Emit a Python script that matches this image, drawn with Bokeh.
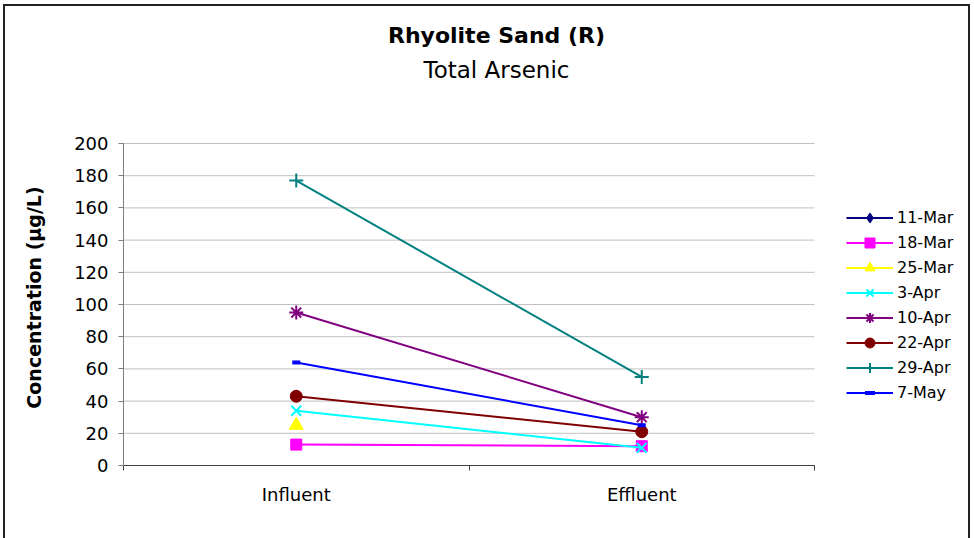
import math
from bokeh.plotting import figure
from bokeh.models import Range1d, FixedTicker, Legend, LegendItem, Label
from bokeh.embed import file_html
from bokeh.resources import INLINE

nan = float("nan")

categories = ["Influent", "Effluent"]
series_names = ["11-Mar", "18-Mar", "25-Mar", "3-Apr", "10-Apr", "22-Apr", "29-Apr", "7-May"]
s_11_mar = [nan, nan]
s_18_mar = [13, 12]
s_25_mar = [25, nan]
s_3_apr = [34, 11]
s_10_apr = [95, 30]
s_22_apr = [43, 21]
s_29_apr = [177, 55]
s_7_may = [64, 25]
series_values = [s_11_mar, s_18_mar, s_25_mar, s_3_apr, s_10_apr, s_22_apr, s_29_apr, s_7_may]
y_ticks = [0, 20, 40, 60, 80, 100, 120, 140, 160, 180, 200]

colors = ["#000080", "#FF00FF", "#FFFF00", "#00FFFF", "#800080", "#800000", "#008080", "#0000FF"]
markers = ["diamond", "square", "triangle", "x", "asterisk", "circle", "cross", "dash"]
msizes = [15, 11, 14, 14, 14, 12, 14, 8]
mlw = [1, 1, 1, 2, 2, 1, 2, 4]

FONT = "DejaVu Sans"

# layout (pixels, canvas coordinates)
CANVAS_W, CANVAS_H = 963, 532
AX_L, AX_R, AX_T, AX_B = 118, 809, 137, 459

x_pos = [i + 0.5 for i in range(len(categories))]
x_bounds = [i for i in range(len(categories) + 1)]
kx = len(categories) / (AX_R - AX_L)
ky = (y_ticks[-1] - y_ticks[0]) / (AX_B - AX_T)
x_range = Range1d(-AX_L * kx, (CANVAS_W - AX_L) * kx)
y_range = Range1d(y_ticks[0] - (CANVAS_H - AX_B) * ky, y_ticks[0] + AX_B * ky)

p = figure(frame_width=CANVAS_W, frame_height=CANVAS_H, title=None,
           x_range=x_range, y_range=y_range,
           output_backend="svg", toolbar_location=None,
           min_border=0, min_border_left=0, min_border_right=0,
           min_border_top=0, min_border_bottom=0)
p.styles = {"margin-left": "5px", "margin-top": "6px", "outline": "2px solid #222222"}
p.outline_line_color = None
p.background_fill_color = "white"
p.border_fill_color = "white"

p.xgrid.visible = False
p.ygrid.visible = False
n = len(y_ticks)
p.segment(x0=[x_bounds[0]] * n, x1=[x_bounds[-1]] * n, y0=y_ticks, y1=y_ticks,
          line_color="#c0c0c0", line_width=1)

ya = p.yaxis[0]
ya.fixed_location = x_bounds[0]
ya.ticker = FixedTicker(ticks=y_ticks)
ya.bounds = (y_ticks[0], y_ticks[-1])
ya.axis_line_color = "#808080"
ya.major_tick_line_color = "#808080"
ya.major_tick_in = 0
ya.major_tick_out = 5
ya.minor_tick_line_color = None
ya.major_label_standoff = 10
ya.major_label_text_font = FONT
ya.major_label_text_font_size = "18px"
ya.major_label_text_color = "black"

xa = p.xaxis[0]
xa.fixed_location = y_ticks[0]
xa.ticker = FixedTicker(ticks=x_pos, minor_ticks=x_bounds)
xa.bounds = (x_bounds[0], x_bounds[-1])
xa.major_label_overrides = {x: c for x, c in zip(x_pos, categories)}
xa.axis_line_color = "#404040"
xa.major_tick_in = 0
xa.major_tick_out = 0
xa.minor_tick_in = 0
xa.minor_tick_out = 5
xa.minor_tick_line_color = "#404040"
xa.major_label_standoff = 13
xa.major_label_text_font = FONT
xa.major_label_text_font_size = "18px"
xa.major_label_text_color = "black"

items = []
for name, vals, c, m, ms, lw in zip(series_names, series_values, colors, markers, msizes, mlw):
    lr = p.line(x_pos, vals, line_color=c, line_width=2)
    sr = p.scatter(x_pos, vals, marker=m, size=ms, line_color=c, line_width=lw, fill_color=c)
    items.append(LegendItem(label=name, renderers=[lr, sr]))

legend = Legend(items=items, location=(841, 133), padding=5, spacing=0,
                glyph_width=47, glyph_height=25, label_height=20, label_standoff=4,
                label_text_font=FONT, label_text_font_size="16px", label_text_color="black",
                border_line_color=None, background_fill_alpha=0, margin=0)
p.add_layout(legend, "center")

p.add_layout(Label(x=491, y=503, x_units="screen", y_units="screen",
                   text="Rhyolite Sand (R)", text_align="center", text_baseline="alphabetic",
                   text_font=FONT, text_font_size="22px", text_font_style="bold", text_color="black"))
p.add_layout(Label(x=491, y=469, x_units="screen", y_units="screen",
                   text="Total Arsenic", text_align="center", text_baseline="alphabetic",
                   text_font=FONT, text_font_size="23px", text_color="black"))
p.add_layout(Label(x=28, y=241, x_units="screen", y_units="screen", angle=math.pi / 2,
                   text="Concentration (µg/L)", text_align="center", text_baseline="middle",
                   text_font=FONT, text_font_size="19px", text_font_style="bold", text_color="black"))

open("out.html", "w").write(file_html(p, INLINE))
